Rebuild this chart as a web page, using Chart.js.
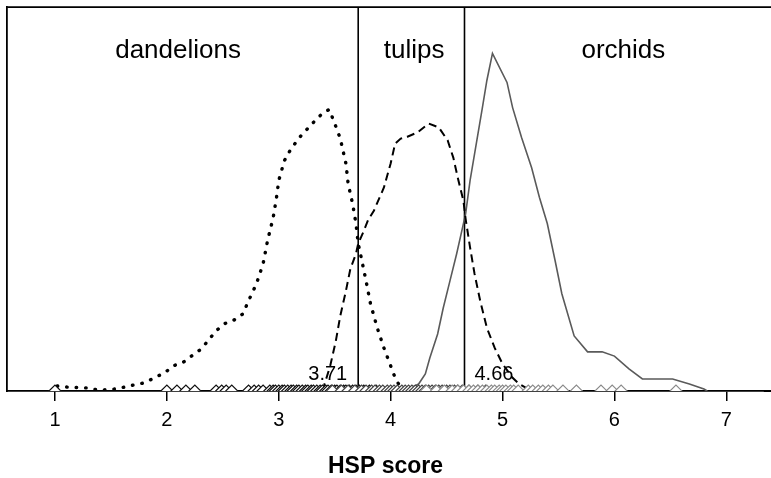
<!DOCTYPE html>
<html>
<head>
<meta charset="utf-8">
<script src="https://cdn.jsdelivr.net/npm/chart.js@4/dist/chart.umd.min.js"></script>
<style>
  body { margin: 0; background: #fff; }
  canvas { display: block; }
</style>
</head>
<body>
<canvas id="hsp-chart" width="771" height="478"></canvas>
<script>
// density curves (x = HSP score, y = density, axis hidden)
const dandelionX = [1.02, 1.11, 1.28, 1.40, 1.53, 1.62, 1.71, 1.80, 1.89, 1.98, 2.06, 2.15, 2.22, 2.31, 2.38, 2.44, 2.51, 2.60, 2.68, 2.73, 2.80, 2.86, 2.90, 2.95, 2.98, 3.00, 3.05, 3.11, 3.20, 3.30, 3.39, 3.45, 3.49, 3.55, 3.60, 3.62, 3.66, 3.69, 3.71, 3.73, 3.78, 3.82, 3.88, 3.94, 4.00, 4.04, 4.09, 4.13];
const dandelionY = [0.013, 0.010, 0.008, 0.002, 0.005, 0.010, 0.016, 0.021, 0.034, 0.047, 0.065, 0.075, 0.090, 0.109, 0.134, 0.155, 0.173, 0.183, 0.199, 0.233, 0.276, 0.328, 0.388, 0.447, 0.499, 0.543, 0.594, 0.625, 0.659, 0.690, 0.716, 0.726, 0.698, 0.651, 0.587, 0.535, 0.483, 0.432, 0.380, 0.354, 0.284, 0.225, 0.163, 0.111, 0.065, 0.034, 0.008, 0.0];

const tulipX = [3.39, 3.46, 3.51, 3.55, 3.60, 3.64, 3.69, 3.71, 3.76, 3.80, 3.85, 3.94, 4.00, 4.04, 4.09, 4.15, 4.24, 4.34, 4.43, 4.51, 4.56, 4.60, 4.65, 4.67, 4.71, 4.75, 4.80, 4.86, 4.93, 5.00, 5.09, 5.15, 5.23, 5.30, 6.80];
const tulipY = [0.0, 0.065, 0.129, 0.194, 0.258, 0.315, 0.354, 0.380, 0.413, 0.442, 0.465, 0.525, 0.587, 0.638, 0.651, 0.656, 0.667, 0.690, 0.680, 0.646, 0.602, 0.550, 0.491, 0.444, 0.370, 0.302, 0.233, 0.163, 0.111, 0.070, 0.034, 0.018, 0.005, 0.0, 0.0];

const orchidX = [4.09, 4.18, 4.25, 4.31, 4.35, 4.42, 4.47, 4.53, 4.59, 4.67, 4.71, 4.77, 4.82, 4.86, 4.91, 5.04, 5.09, 5.17, 5.26, 5.33, 5.40, 5.47, 5.53, 5.64, 5.76, 5.89, 6.00, 6.13, 6.25, 6.52, 6.67, 6.80, 6.83];
const orchidY = [0.0, 0.008, 0.018, 0.044, 0.085, 0.147, 0.214, 0.284, 0.354, 0.457, 0.543, 0.646, 0.731, 0.801, 0.871, 0.796, 0.731, 0.654, 0.576, 0.499, 0.432, 0.336, 0.251, 0.142, 0.101, 0.101, 0.090, 0.057, 0.031, 0.031, 0.018, 0.005, 0.0];

// individual scores shown as a rug along the axis
const dandelionRug = [1.0, 2.0, 2.09, 2.17, 2.25, 2.44, 2.49, 2.53, 2.58, 2.73, 2.78, 2.82, 2.86, 2.92, 2.95, 2.97, 3.0, 3.03, 3.05, 3.08, 3.11, 3.13, 3.16, 3.18, 3.21, 3.24, 3.26, 3.29, 3.31, 3.34, 3.37, 3.39, 3.42, 3.44, 3.47, 3.5, 3.52, 3.55, 3.58, 3.6, 3.63, 3.66, 3.69, 3.72, 3.76, 3.81, 3.87];
const tulipRug = [3.48, 3.56, 3.62, 3.68, 3.74, 3.78, 3.83, 3.86, 3.9, 3.93, 3.97, 4.0, 4.03, 4.06, 4.1, 4.13, 4.16, 4.19, 4.22, 4.25, 4.28, 4.31, 4.34, 4.37, 4.4, 4.43, 4.46, 4.5, 4.53, 4.57, 4.6, 4.64, 4.7, 4.78, 4.85];
const orchidRug = [4.32, 4.41, 4.48, 4.55, 4.6, 4.65, 4.7, 4.74, 4.78, 4.82, 4.86, 4.9, 4.93, 4.97, 5.0, 5.03, 5.07, 5.1, 5.14, 5.23, 5.27, 5.32, 5.36, 5.41, 5.45, 5.54, 5.66, 5.88, 5.98, 6.06, 6.55];

// cut-off scores and the group names
const cutoffs = [3.71, 4.66];
const cutoffLabels = ['3.71', '4.66'];
const groupNames = ['dandelions', 'tulips', 'orchids'];
const groupCenters = [2.10, 4.21, 6.08];
const tickValues = [1, 2, 3, 4, 5, 6, 7];
const yTop = 0.99;

const FONT = "'Liberation Sans', Arial, sans-serif";

function toPoints(xs, ys) {
    return xs.map((x, i) => ({ x: x, y: ys[i] }));
}
function rugPoints(xs) {
    return xs.map(x => ({ x: x, y: 0 }));
}

const datasets = [
    { data: rugPoints(orchidRug), showLine: false, pointStyle: 'rectRot', pointRadius: 6,
      pointBorderWidth: 1.1, pointBorderColor: '#8a8a8a', pointBackgroundColor: '#fff', clip: 0 },
    { data: rugPoints(tulipRug), showLine: false, pointStyle: 'rectRot', pointRadius: 6,
      pointBorderWidth: 1.2, pointBorderColor: '#444', pointBackgroundColor: '#fff', clip: 0 },
    { data: rugPoints(dandelionRug), showLine: false, pointStyle: 'rectRot', pointRadius: 6,
      pointBorderWidth: 1.2, pointBorderColor: '#111', pointBackgroundColor: '#fff', clip: 0 },
    { data: toPoints(dandelionX, dandelionY), showLine: true, borderColor: '#000', borderWidth: 3.4,
      borderDash: [0.5, 9], borderCapStyle: 'round', pointRadius: 0, tension: 0 },
    { data: toPoints(tulipX, tulipY), showLine: true, borderColor: '#000', borderWidth: 2,
      borderDash: [8, 5], pointRadius: 0, tension: 0 },
    { data: toPoints(orchidX, orchidY), showLine: true, borderColor: '#5a5a5a', borderWidth: 1.6,
      pointRadius: 0, tension: 0 }
];

// threshold lines through the full height
cutoffs.forEach(c => {
    datasets.push({ data: [{ x: c, y: 0 }, { x: c, y: yTop }], showLine: true,
        borderColor: '#000', borderWidth: 1.6, pointRadius: 0, clip: 0 });
});

// frame lines, group names and cut-off values
const textPlugin = {
    id: 'textPlugin',
    afterDatasetsDraw(chart) {
        const ctx = chart.ctx;
        const xs = chart.scales.x;
        const area = chart.chartArea;
        ctx.save();
        // top of the box and the axis line run out to the right edge
        ctx.strokeStyle = '#000';
        ctx.lineWidth = 1.8;
        ctx.beginPath();
        ctx.moveTo(area.left, area.top);
        ctx.lineTo(chart.width, area.top);
        ctx.moveTo(area.right, area.bottom);
        ctx.lineTo(chart.width, area.bottom);
        ctx.stroke();

        ctx.fillStyle = '#000';
        ctx.textBaseline = 'alphabetic';
        ctx.font = '26px ' + FONT;
        ctx.textAlign = 'center';
        groupNames.forEach((name, i) => {
            ctx.fillText(name, xs.getPixelForValue(groupCenters[i]), 58);
        });
        ctx.font = '20px ' + FONT;
        ctx.textAlign = 'right';
        ctx.fillText(cutoffLabels[0], xs.getPixelForValue(cutoffs[0]) - 11, area.bottom - 11);
        ctx.textAlign = 'left';
        ctx.fillText(cutoffLabels[1], xs.getPixelForValue(cutoffs[1]) + 10, area.bottom - 11);
        ctx.restore();
    }
};

const config = {
    type: 'scatter',
    data: { datasets: datasets },
    options: {
        responsive: false,
        devicePixelRatio: 1,
        animation: false,
        layout: { padding: { left: 5, top: 0, right: 0, bottom: 0 } },
        plugins: { legend: { display: false }, tooltip: { enabled: false } },
        scales: {
            x: {
                type: 'linear',
                min: 0.573,
                max: 7.335,
                afterBuildTicks: axis => { axis.ticks = tickValues.map(v => ({ value: v })); },
                ticks: { color: '#000', padding: 9, font: { family: FONT, size: 20, lineHeight: 1 } },
                grid: { drawOnChartArea: false, drawTicks: true, tickLength: 10, color: '#000', lineWidth: 1.5 },
                border: { display: true, color: '#000', width: 1.8 },
                title: { display: true, text: 'HSP score', color: '#000', padding: { top: 16, bottom: 0 },
                         font: { family: FONT, size: 23, weight: 'bold', lineHeight: 1 } }
            },
            y: {
                min: 0,
                max: yTop,
                ticks: { display: false },
                grid: { display: false, drawTicks: false },
                border: { display: true, color: '#000', width: 1.8 }
            }
        }
    },
    plugins: [textPlugin]
};

const context = document.getElementById('hsp-chart').getContext('2d');
const hspChart = new Chart(context, config);
</script>
</body>
</html>
